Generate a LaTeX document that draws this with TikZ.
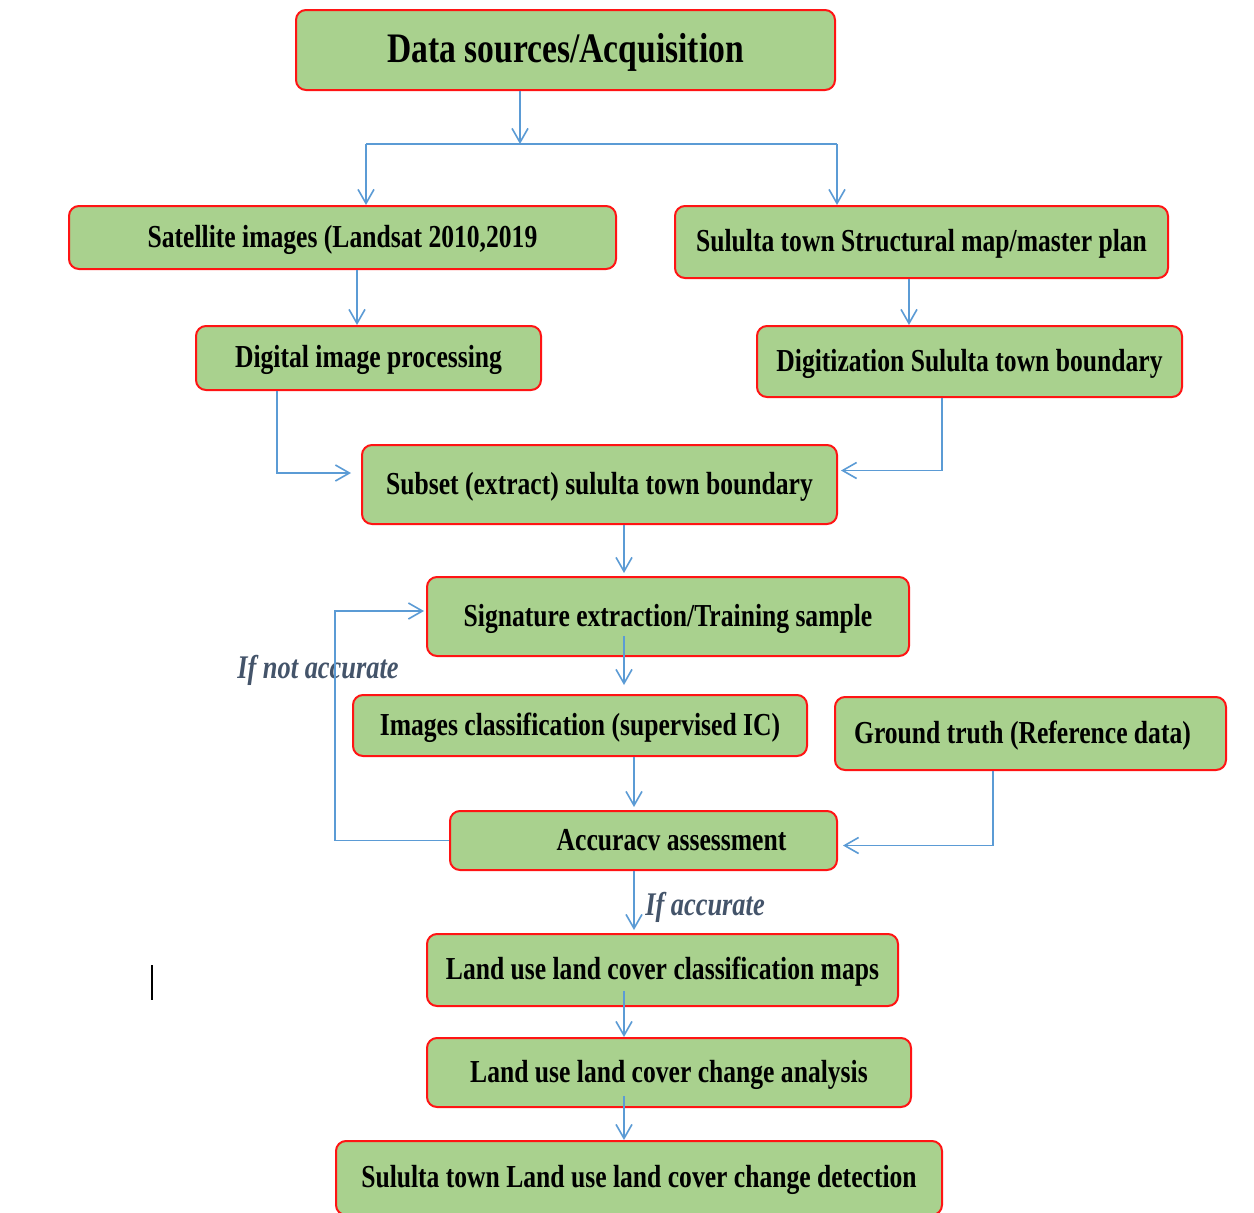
\documentclass[tikz,border=0pt]{standalone}
\usepackage{fontspec}
\setmainfont{Liberation Serif}[FakeStretch=0.8]
\usetikzlibrary{arrows.meta}
\definecolor{boxgreen}{RGB}{169,209,142}
\definecolor{boxred}{RGB}{255,20,20}
\definecolor{connblue}{RGB}{91,155,213}
\definecolor{lblgray}{RGB}{68,84,106}
\tikzset{
  box/.style={draw=boxred, fill=boxgreen, line width=2pt, rounded corners=10pt,
    inner sep=0pt, text height=19pt, text depth=0pt, font=\fontsize{32}{38}\selectfont\bfseries},
  titlebox/.style={box, text height=24pt, font=\fontsize{42}{48}\selectfont\bfseries},
  conn/.style={draw=connblue, line width=1.6pt},
  arr/.style={conn, -{Straight Barb[length=14pt,width=16pt]}},
  lbl/.style={text=lblgray, inner sep=0pt, font=\fontsize{33}{38}\selectfont\bfseries\itshape}
}
\begin{document}
\begin{tikzpicture}[x=1pt,y=-1pt]
\fill[white] (0,0) rectangle (1254,1213);
\useasboundingbox (0,0) rectangle (1254,1213);

\node[titlebox, minimum width=539pt, minimum height=80pt] (title) at (565.5,50) {Data sources/Acquisition};
\node[box, minimum width=547pt, minimum height=63pt] (sat) at (342.5,237.5) {Satellite images (Landsat 2010,2019};
\node[box, minimum width=493pt, minimum height=72pt] (struct) at (921.5,242) {Sululta town Structural map/master plan};
\node[box, minimum width=345pt, minimum height=64pt] (dip) at (368.5,358) {Digital image processing};
\node[box, minimum width=425pt, minimum height=71pt] (digit) at (969.5,361.5) {Digitization Sululta town boundary};
\node[box, minimum width=475pt, minimum height=79pt] (subset) at (599.5,484.5) {Subset (extract) sululta town boundary};
\node[box, minimum width=482pt, minimum height=79pt] (sig) at (668,616.5) {Signature extraction/Training sample};
\node[box, minimum width=454pt, minimum height=61pt] (ic) at (580,725.5) {Images classification (supervised IC)};
\node[box, minimum width=391pt, minimum height=73pt] (gt) at (1030.5,733.5) {Ground truth (Reference data)\hspace*{16pt}};
\node[box, minimum width=387pt, minimum height=59pt] (acc) at (643.5,840.5) {\hspace*{56pt}Accuracv assessment};
\node[box, minimum width=471pt, minimum height=72pt] (maps) at (662.5,970) {Land use land cover classification maps};
\node[box, minimum width=484pt, minimum height=69pt] (chg) at (669,1072.5) {Land use land cover change analysis};
\node[box, minimum width=606pt, minimum height=74pt] (det) at (639,1178) {Sululta town Land use land cover change detection};

\node[lbl] (ifacc) at (705,907) {If accurate};
\node[lbl] (ifnot) at (318,670) {If not accurate};

% connectors
\coordinate (split) at (520,144);
\coordinate (sl) at (366,144);
\coordinate (sr) at (837,144);
\draw[arr] ([xshift=-45.5pt]title.south) -- (split);
\draw[conn] (sl) -- (sr);
\draw[arr] (sl) -- (sl |- sat.north);
\draw[arr] (sr) -- (sr |- struct.north);

\coordinate (s1) at ([xshift=14.5pt]sat.south);
\draw[arr] (s1) -- (s1 |- dip.north);
\coordinate (s2) at ([xshift=-12.5pt]struct.south);
\draw[arr] (s2) -- (s2 |- digit.north);

\coordinate (s3) at ([xshift=-91.5pt]dip.south);
\coordinate (t3) at ([xshift=-10pt,yshift=11.5pt]subset.west);
\draw[arr] (s3) |- (t3);
\coordinate (s4) at ([xshift=-27.5pt]digit.south);
\coordinate (t4) at ([xshift=3pt,yshift=14pt]subset.east);
\draw[arr] (s4) |- (t4);

\coordinate (s5) at ([xshift=24.5pt]subset.south);
\draw[arr, shorten >=3pt] (s5) -- (s5 |- sig.north);
\coordinate (s6) at ([xshift=-44pt,yshift=21pt]sig.south);
\draw[arr, shorten >=9pt] (s6) -- (s6 |- ic.north);
\coordinate (s7) at ([xshift=54pt]ic.south);
\draw[arr, shorten >=3pt] (s7) -- (s7 |- acc.north);
\coordinate (s8) at ([xshift=-37.5pt]gt.south);
\coordinate (t8) at ([xshift=5pt,yshift=-5pt]acc.east);
\draw[arr] (s8) |- (t8);
\coordinate (c9) at ([xshift=-114pt]acc.west);
\coordinate (t9) at ([xshift=-2pt,yshift=5.5pt]sig.west);
\draw[arr] (acc.west) -- (c9) |- (t9);
\coordinate (s10) at ([xshift=-9.5pt]acc.south);
\draw[arr, shorten >=3pt] (s10) -- (s10 |- maps.north);
\coordinate (s11) at ([xshift=-38.5pt,yshift=16pt]maps.south);
\draw[arr] (s11) -- (s11 |- chg.north);
\coordinate (s12) at ([xshift=-45pt,yshift=12pt]chg.south);
\draw[arr] (s12) -- (s12 |- det.north);

% stray cursor mark
\coordinate (m1) at (152,965);
\coordinate (m2) at (152,1000);
\draw[black, line width=1.5pt] (m1) -- (m2);
\end{tikzpicture}
\end{document}
